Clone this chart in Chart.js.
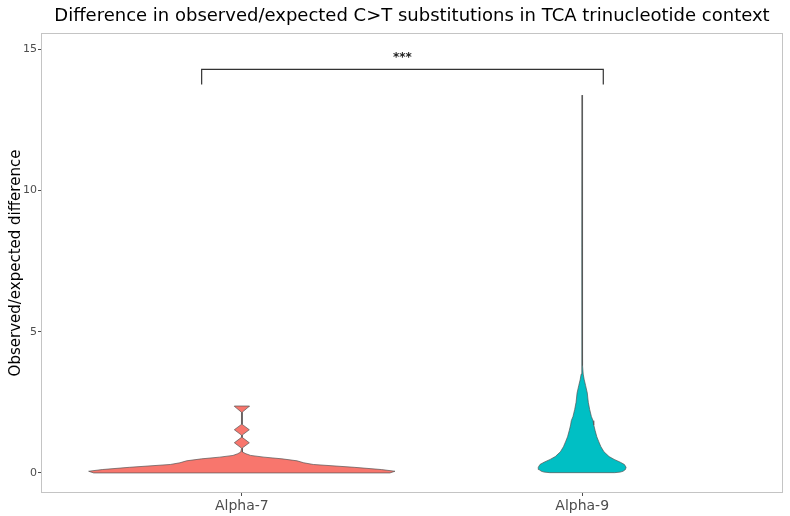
<!DOCTYPE html>
<html>
<head>
<meta charset="utf-8">
<script src="https://cdn.jsdelivr.net/npm/chart.js@4.4.1/dist/chart.umd.min.js"></script>
<style>
  html, body { margin: 0; padding: 0; background: #ffffff; }
  #wrap { width: 790px; height: 516px; position: relative; }
</style>
</head>
<body>
<div id="wrap"><canvas id="violin" width="790" height="516"></canvas></div>
<script>
// categories on the x axis and their positions
var categories = ["Alpha-7", "Alpha-9"];
var categoryPos = [1, 2];

// y axis ticks
var yTicks = [0, 5, 10, 15];

// violin outline for Alpha-7: value and half width (in category units)
var alpha7Y = [0.00, 0.06, 0.12, 0.20, 0.30, 0.36, 0.43, 0.50, 0.56, 0.62, 0.68, 0.74, 0.86,
	0.88, 1.07, 1.26, 1.34, 1.53, 1.72, 2.15, 2.36, 2.37];
var alpha7W = [0.435, 0.45, 0.41, 0.33, 0.21, 0.182, 0.162, 0.118, 0.065, 0.026, 0.012, 0.003, 0.0008,
	0.001, 0.022, 0.001, 0.001, 0.022, 0.001, 0.001, 0.022, 0.022];

// violin outline for Alpha-9
var alpha9Y = [0.01, 0.03, 0.06, 0.12, 0.20, 0.30, 0.38, 0.48, 0.58, 0.75, 0.93, 1.10, 1.28, 1.50,
	1.70, 1.85, 2.00, 2.25, 2.50, 2.83, 3.10, 3.30, 3.50, 3.80, 4.20, 4.50, 4.80, 5.50, 5.80, 6.10,
	8.00, 13.38];
var alpha9W = [0.095, 0.112, 0.12, 0.127, 0.129, 0.124, 0.112, 0.094, 0.079, 0.064, 0.055, 0.049, 0.043, 0.038,
	0.034, 0.032, 0.027, 0.022, 0.018, 0.015, 0.010, 0.006, 0.003, 0.0012, 0.0008, 0.002, 0.0008, 0.0008, 0.002, 0.0008,
	0.0006, 0.0005];

// significance bracket
var bracketX = [0.882, 0.882, 2.062, 2.062];
var bracketY = [13.76, 14.29, 14.29, 13.76];
var bracketLabel = "***";

var fillColors = ["#F8766D", "#00BFC4"];

// build a closed polygon: up the left side, down the right side
function violinPoints(center, ys, ws) {
	var pts = [];
	for (var k = 0; k < ys.length; k++) {
		pts.push({ x: center - ws[k], y: ys[k] });
	}
	for (var k = ys.length - 1; k >= 0; k--) {
		pts.push({ x: center + ws[k], y: ys[k] });
	}
	pts.push(pts[0]);
	return pts;
}

function violinDataset(center, ys, ws, color) {
	return {
		data: violinPoints(center, ys, ws),
		showLine: true,
		fill: 'shape',
		backgroundColor: color,
		borderColor: '#555555',
		borderWidth: 0.7,
		pointRadius: 0,
		tension: 0
	};
}

var bracketPoints = bracketX.map(function (x, k) { return { x: x, y: bracketY[k] }; });

// panel border, titles and bracket label
var decorations = {
	id: 'decorations',
	afterDatasetsDraw: function (chart) {
		var ctx = chart.ctx;
		var a = chart.chartArea;
		var xs = chart.scales.x, ys = chart.scales.y;
		ctx.save();
		ctx.strokeStyle = '#c4c4c4';
		ctx.lineWidth = 1;
		ctx.strokeRect(a.left + 0.5, a.top + 0.5, a.right - a.left - 1, a.bottom - a.top - 1);

		// bracket label
		ctx.fillStyle = '#222222';
		ctx.font = 'bold 12px "DejaVu Sans"';
		ctx.textAlign = 'center';
		ctx.textBaseline = 'middle';
		var mid = (bracketX[0] + bracketX[bracketX.length - 1]) / 2;
		ctx.fillText(bracketLabel, xs.getPixelForValue(mid), ys.getPixelForValue(bracketY[1]) - 12);

		// chart title
		ctx.fillStyle = '#000000';
		ctx.font = '18px "DejaVu Sans"';
		ctx.fillText("Difference in observed/expected C>T substitutions in TCA trinucleotide context",
			(a.left + a.right) / 2, 16);

		// y axis title
		ctx.font = '15px "DejaVu Sans"';
		ctx.translate(16, (a.top + a.bottom) / 2);
		ctx.rotate(-Math.PI / 2);
		ctx.fillText("Observed/expected difference", 0, 0);
		ctx.restore();
	}
};

var chart = new Chart(document.getElementById("violin"), {
	type: 'scatter',
	data: {
		datasets: [
			violinDataset(categoryPos[0], alpha7Y, alpha7W, fillColors[0]),
			violinDataset(categoryPos[1], alpha9Y, alpha9W, fillColors[1]),
			{
				data: bracketPoints,
				showLine: true,
				fill: false,
				borderColor: '#333333',
				borderWidth: 1.2,
				pointRadius: 0
			}
		]
	},
	options: {
		responsive: false,
		animation: false,
		layout: { padding: { top: 33, right: 7, bottom: 0, left: 0 } },
		plugins: {
			legend: { display: false },
			tooltip: { enabled: false },
			title: { display: false }
		},
		scales: {
			x: {
				type: 'linear',
				min: 0.41,
				max: 2.59,
				afterBuildTicks: function (axis) {
					axis.ticks = categoryPos.map(function (v) { return { value: v }; });
				},
				afterFit: function (axis) { axis.height = 23; },
				grid: { drawOnChartArea: false, tickLength: 3, color: '#4d4d4d' },
				border: { display: false },
				ticks: {
					padding: 2,
					color: '#4d4d4d',
					font: { family: 'DejaVu Sans', size: 14 },
					callback: function (v) { return categories[categoryPos.indexOf(v)]; }
				}
			},
			y: {
				type: 'linear',
				min: -0.71,
				max: 15.58,
				afterBuildTicks: function (axis) {
					axis.ticks = yTicks.map(function (v) { return { value: v }; });
				},
				afterFit: function (axis) { axis.width = 41; },
				grid: { drawOnChartArea: false, tickLength: 3, color: '#4d4d4d' },
				border: { display: false },
				ticks: {
					padding: 1,
					color: '#4d4d4d',
					font: { family: 'DejaVu Sans', size: 11 }
				}
			}
		}
	},
	plugins: [decorations]
});
</script>
</body>
</html>
